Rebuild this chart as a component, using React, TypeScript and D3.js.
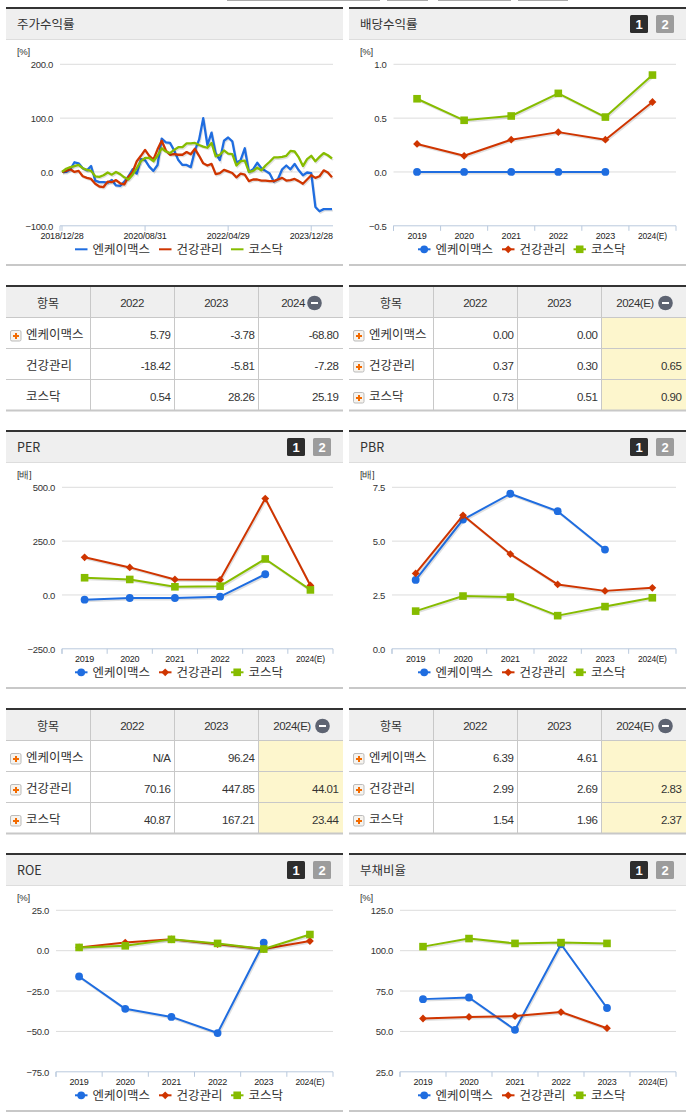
import React from "react";
import * as d3 from "d3";

// ---------- data ----------
const seriesNames = ["엔케이맥스", "건강관리", "코스닥"];
const years = ["2019", "2020", "2021", "2022", "2023", "2024(E)"];
const stockTicks = ["2018/12/28", "2020/08/31", "2022/04/29", "2023/12/28"];

const stockBlue = [0,0,5,18,16,7,3,11,-16,-19,-19,-20,-15,-25,-26,-18,-8,5,-3,24,22,10,2,13,62,55,54,40,22,13,13,9,40,60,100,50,73,35,22,58,64,57,17,22,44,0,5,17,7,2,-3,-18,-13,5,12,5,15,3,-6,-1,-2,-65,-73,-69,-69,-69];
const stockRed = [0,2,5,0,2,-8,-11,-13,-22,-27,-28,-18,-19,-15,-21,-23,-9,0,20,30,41,30,23,42,58,40,32,33,32,32,37,33,43,30,16,12,15,-4,-2,4,1,-2,-10,-3,-5,-17,-14,-14,-16,-16,-17,-17,-14,-11,-16,-15,-13,-17,-22,-14,-6,-11,-8,3,-1,-10];
const stockGreen = [0,6,9,11,13,7,4,2,-8,-9,-6,-1,-5,0,-4,-10,-14,-5,7,20,26,26,20,30,44,38,35,41,46,46,53,53,54,50,47,45,54,29,32,40,34,33,12,20,21,0,2,8,3,12,19,27,27,28,30,39,38,27,11,24,30,20,28,35,31,25];

const divBlue = [0,0,0,0,0];
const divRed = [0.26,0.15,0.30,0.37,0.30,0.65];
const divGreen = [0.68,0.48,0.52,0.73,0.51,0.90];
const perBlue = [-22,-14,-14,-8,96.24];
const perRed = [175,128,72,70.16,447.85,44.01];
const perGreen = [80,72,38,40.87,167.21,23.44];
const pbrBlue = [3.2,6.0,7.2,6.39,4.61];
const pbrRed = [3.5,6.2,4.4,2.99,2.69,2.83];
const pbrGreen = [1.75,2.45,2.4,1.54,1.96,2.37];
const roeBlue = [-16,-36,-41,-51,5];
const roeRed = [2,5,7,4,1,6];
const roeGreen = [2,3,7,4.5,1,10];
const debtBlue = [70,71,51,104,64.5];
const debtRed = [58,59,59.5,62,52];
const debtGreen = [102.5,107.5,104.5,105,104.5];

const stockAxis = [200,100,0,-100];
const divAxis = [1,0.5,0,-0.5];
const perAxis = [500,250,0,-250];
const pbrAxis = [7.5,5,2.5,0];
const roeAxis = [25,0,-25,-50,-75];
const debtAxis = [125,100,75,50,25];

const stockRows = [["5.79","-3.78","-68.80"],["-18.42","-5.81","-7.28"],["0.54","28.26","25.19"]];
const divRows = [["0.00","0.00",""],["0.37","0.30","0.65"],["0.73","0.51","0.90"]];
const perRows = [["N/A","96.24",""],["70.16","447.85","44.01"],["40.87","167.21","23.44"]];
const pbrRows = [["6.39","4.61",""],["2.99","2.69","2.83"],["1.54","1.96","2.37"]];

// ---------- style ----------
const COLORS = ["#1f6de0", "#cf3500", "#86bc00"];
const KR = "'Noto Sans CJK KR','Noto Sans',sans-serif";
const LAT = "'Liberation Sans',Arial,sans-serif";
const TXT = "#333";

const Marker = ({ i, x, y }: { i: number; x: number; y: number }) => {
  if (i === 0) return <circle cx={x} cy={y} r={3.9} fill={COLORS[0]} />;
  if (i === 1) return <path d={`M${x} ${y - 3.9}L${x + 3.9} ${y}L${x} ${y + 3.9}L${x - 3.9} ${y}Z`} fill={COLORS[1]} />;
  return <rect x={x - 3.8} y={y - 3.8} width={7.6} height={7.6} fill={COLORS[2]} />;
};

const Head = ({ x, y, title, btn, w = 337, btnX }: any) => (
  <g>
    <rect x={x} y={y} width={w} height={32} fill="#efefef" />
    <rect x={x} y={y} width={w} height={2} fill="#333" />
    <rect x={x} y={y + 32} width={w} height={1} fill="#ddd" />
    <text x={x + 11} y={y + 21.5} fontFamily={KR} fontSize={12.5} fill={TXT}>{title}</text>
    {btn && (
      <g fontFamily={LAT} fontSize={13} fontWeight={700} textAnchor="middle" fill="#fff">
        <rect x={btnX} y={y + 8} width={18} height={18} rx={1.5} fill="#2d2d2d" />
        <text x={btnX + 9} y={y + 21.5}>1</text>
        <rect x={btnX + 26} y={y + 8} width={18} height={18} rx={1.5} fill="#9c9c9c" />
        <text x={btnX + 35} y={y + 21.5}>2</text>
      </g>
    )}
  </g>
);

const Legend = ({ y, xs, names, marker }: any) => (
  <g>
    {names.map((n: string, i: number) => (
      <g key={n}>
        <line x1={xs[i]} x2={xs[i] + 12.5} y1={y} y2={y} stroke={COLORS[i]} strokeWidth={2} />
        {marker && <Marker i={i} x={xs[i] + 6.2} y={y} />}
        <text x={xs[i] + 17.5} y={y + 4.5} fontFamily={KR} fontSize={12.5} fill="#333">{n}</text>
      </g>
    ))}
  </g>
);

const Chart = ({ x, top, title, unit, axis, fmt, left, right, series, labels, stock, legendXs, btnX, w }: any) => {
  const yTop = top + 57.3;
  const yBot = top + 218.8;
  const y = d3.scaleLinear().domain([axis[axis.length - 1], axis[0]]).range([yBot, yTop]);
  const band = d3.scaleBand<number>().domain(d3.range(6)).range([left, right]);
  const mx = d3.scaleLinear().domain([0, 65]).range([left + 2, right - 1]);
  const px = (i: number) => (stock ? mx(i) : band(i)! + band.bandwidth() / 2);
  const line = d3.line<number>().x((_, i) => px(i)).y((v) => y(v));
  const ticks = stock ? [0, 20, 40, 60].map((k) => mx(k)) : d3.range(7).map((k) => left + k * band.step());
  return (
    <g>
      <Head x={x} y={top} title={title} btn={!stock} btnX={btnX} w={w} />
      <text x={x + 11} y={top + 47.5} fontFamily={LAT} fontSize={9.5} fill="#333" letterSpacing={-0.3}>{unit}</text>
      {axis.map((v: number) => (
        <g key={v}>
          {v !== axis[axis.length - 1] && <line x1={left} x2={right} y1={y(v)} y2={y(v)} stroke="#dcdcdc" strokeWidth={1} />}
          <text x={left - 7} y={y(v) + 3.7} textAnchor="end" fontFamily={LAT} fontSize={9.5} fill="#333" letterSpacing={-0.3}>{d3.format(fmt)(v)}</text>
        </g>
      ))}
      <line x1={left} x2={right} y1={yBot} y2={yBot} stroke="#b9c9dd" />
      <line x1={left} x2={left} y1={yBot} y2={yBot + 5} stroke="#b9c9dd" />
      {ticks.map((t: number, i: number) => (
        <line key={i} x1={t} x2={t} y1={yBot} y2={yBot + 5} stroke="#b9c9dd" />
      ))}
      {labels.map((l: string, i: number) => (
        <text key={l} x={stock ? ticks[i] : px(i)} y={yBot + 13} textAnchor="middle" fontFamily={LAT} fontSize={stock ? 9 : (l.length > 4 ? 8.5 : 9)} fill="#222" letterSpacing={-0.2}>{l}</text>
      ))}
      {series.map((s: number[], i: number) => (
        <g key={i}>
          <path d={line(s)!} fill="none" stroke="#000" strokeOpacity={0.12} strokeWidth={2} transform="translate(1,1.5)" />
          <path d={line(s)!} fill="none" stroke={COLORS[i]} strokeWidth={stock ? 2.3 : 2} strokeLinejoin="round" />
          {!stock && s.map((v, k) => <Marker key={k} i={i} x={px(k)} y={y(v)} />)}
        </g>
      ))}
      <Legend y={top + 242.3} xs={legendXs} names={seriesNames} marker={!stock} />
      <rect x={x} y={top + 257} width={w} height={2} fill="#c8c8c8" />
    </g>
  );
};

const Table = ({ x, top, cols, rows, headX, iconX, plus, shade, w }: any) => {
  const rowY = (i: number) => top + 32 + i * 31;
  const cs = [x, x + 84, x + 168, x + 252, x + w];
  return (
    <g>
      <rect x={x} y={top} width={w} height={32} fill="#efefef" />
      {shade && <rect x={cs[3]} y={rowY(0)} width={cs[4] - cs[3]} height={93} fill="#fdf6cd" />}
      <rect x={x} y={top} width={w} height={2} fill="#333" />
      {[0, 1, 2].map((i) => <rect key={i} x={x} y={rowY(i)} width={w} height={1} fill="#c8c8c8" />)}
      <rect x={x} y={rowY(3) - 0.5} width={w} height={2} fill="#c8c8c8" />
      {[1, 2, 3].map((k) => <rect key={k} x={cs[k]} y={top + 2} width={1} height={123} fill="#c8c8c8" />)}
      <text x={x + 42} y={top + 23} textAnchor="middle" fontFamily={KR} fontSize={12} fill={TXT}>항목</text>
      {cols.map((c: string, k: number) => (
        <text key={c} x={k === 2 ? headX : cs[k + 1] + 42} y={top + 22} textAnchor="middle" fontFamily={LAT} fontSize={11.5} letterSpacing={-0.5} fill={TXT}>{c}</text>
      ))}
      <circle cx={iconX} cy={top + 18} r={7.3} fill="#5e6472" />
      <rect x={iconX - 3.5} y={top + 17} width={7} height={2} fill="#fff" />
      {rows.map((r: string[], i: number) => (
        <g key={i}>
          {plus[i] && (
            <g>
              <rect x={x + 4.5} y={rowY(i) + 13.5} width={10.5} height={10.5} rx={1.5} fill="#f6f3ee" stroke="#bbb" />
              <path d={`M${x + 7} ${rowY(i) + 19}h6M${x + 10} ${rowY(i) + 16}v6`} stroke="#f26a00" strokeWidth={2} />
            </g>
          )}
          <text x={x + 20} y={rowY(i) + 22} fontFamily={KR} fontSize={12.5} fill={TXT}>{seriesNames[i]}</text>
          {r.map((v, k) => (
            <text key={k} x={cs[k + 1] + 80.3} y={rowY(i) + 22} textAnchor="end" fontFamily={LAT} fontSize={11.5} letterSpacing={-0.5} fill={TXT}>{v}</text>
          ))}
        </g>
      ))}
    </g>
  );
};

const L = 6, R = 349, W1 = 337;
const legL = [75, 159, 231];
const legR = [418, 502, 573.5];

export default function App() {
  return (
    <svg width={691} height={1115} viewBox="0 0 691 1115" style={{ position: "absolute", left: 0, top: 0, display: "block", background: "#fff" }}>
      <g fill="#aaa">
        <rect x={227} y={0} width={118} height={1} />
        <rect x={345} y={0} width={35} height={1} />
        <rect x={387} y={0} width={41} height={1} />
        <rect x={438} y={0} width={73} height={1} />
        <rect x={518} y={0} width={50} height={1} />
      </g>
      <Chart x={L} w={W1} top={7} title="주가수익률" unit="[%]" axis={stockAxis} fmt=".1f" left={60} right={333} stock series={[stockBlue, stockRed, stockGreen]} labels={stockTicks} legendXs={legL} />
      <Chart x={R} w={W1} top={7} title="배당수익률" unit="[%]" axis={divAxis} fmt=".1f" left={393.5} right={676} btnX={630} series={[divBlue, divRed, divGreen]} labels={years} legendXs={legR} />
      <Table x={L} w={W1} top={285} cols={["2022", "2023", "2024"]} rows={stockRows} headX={293} iconX={314.5} plus={[true, false, false]} />
      <Table x={R} w={W1} top={285} cols={["2022", "2023", "2024(E)"]} rows={divRows} headX={635} iconX={665.5} plus={[true, true, true]} shade />
      <Chart x={L} w={W1} top={430} title="PER" unit="[배]" axis={perAxis} fmt=".1f" left={62} right={333} btnX={287} series={[perBlue, perRed, perGreen]} labels={years} legendXs={legL} />
      <Chart x={R} w={W1} top={430} title="PBR" unit="[배]" axis={pbrAxis} fmt=".1f" left={392} right={676} btnX={630} series={[pbrBlue, pbrRed, pbrGreen]} labels={years} legendXs={legR} />
      <Table x={L} w={W1} top={708} cols={["2022", "2023", "2024(E)"]} rows={perRows} headX={292} iconX={322.5} plus={[true, true, true]} shade />
      <Table x={R} w={W1} top={708} cols={["2022", "2023", "2024(E)"]} rows={pbrRows} headX={635} iconX={665.5} plus={[true, true, true]} shade />
      <Chart x={L} w={W1} top={853} title="ROE" unit="[%]" axis={roeAxis} fmt=".1f" left={56} right={333} btnX={287} series={[roeBlue, roeRed, roeGreen]} labels={years} legendXs={legL} />
      <Chart x={R} w={W1} top={853} title="부채비율" unit="[%]" axis={debtAxis} fmt=".1f" left={400} right={676} btnX={630} series={[debtBlue, debtRed, debtGreen]} labels={years} legendXs={legR} />
    </svg>
  );
}
